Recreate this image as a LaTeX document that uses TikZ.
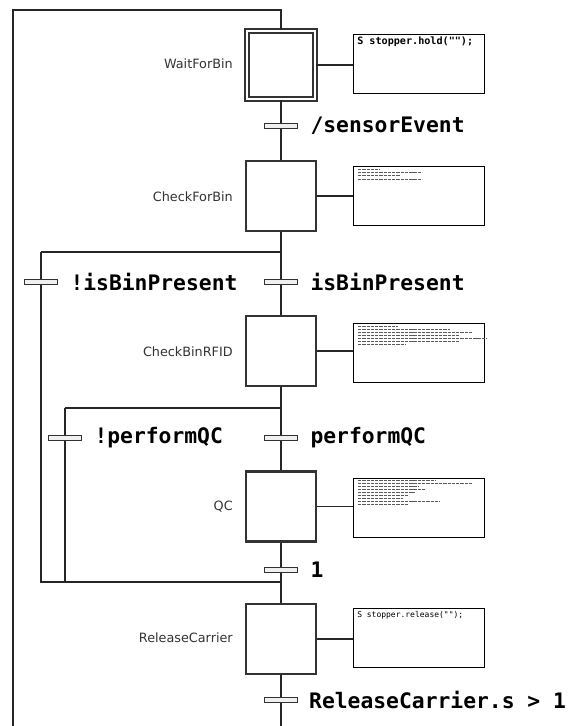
\documentclass[tikz,border=0pt]{standalone}
\usepackage{fontspec}
\usetikzlibrary{positioning}
\newfontfamily\steplabelfont{DejaVu Sans}
\newfontfamily\trfont{DejaVu Sans Mono}

% one unit = one pixel of the 578x726 sheet
\tikzset{
  stepbox/.style={draw=black!80, line width=1.9pt, fill=white, minimum size=70*0.75pt, inner sep=0pt},
  initstep/.style={draw=black!80, line width=1.5pt, double=white, double distance=2.2pt, minimum size=68*0.75pt, inner sep=0pt},
  actbox/.style={draw=black, line width=0.75pt, fill=white, minimum width=131*0.75pt, minimum height=59*0.75pt, inner sep=0pt},
  trbar/.style={draw=black!80, fill=gray!12, line width=1.1pt, minimum width=33*0.75pt, minimum height=5*0.75pt, inner sep=0pt},
  trlabel/.style={font=\trfont\bfseries\fontsize{16}{16}\selectfont, inner sep=0pt, anchor=west},
  steplabel/.style={font=\steplabelfont\fontsize{9.6}{10}\selectfont, text=black!80, inner sep=0pt, anchor=east},
  acttext/.style={font=\trfont\bfseries\fontsize{7.6}{8}\selectfont, inner sep=0pt, anchor=north west},
  scribble/.style={line width=0.6pt, black!65, dash pattern=on 2.5pt off 0.7pt},
  wire/.style={draw=black!85, line width=0.8pt}
}

\begin{document}
\begin{tikzpicture}[x=0.75pt, y=-0.75pt]
\useasboundingbox (0,0) rectangle (578,726);

% steps
\node[initstep] (wait) at (281,65) {};
\node[stepbox] (checkfor) at (281,196) {};
\node[stepbox] (checkrfid) at (281,351) {};
\node[stepbox] (qc) at (281,506.5) {};
\node[stepbox] (release) at (281,639) {};

\node[steplabel] (waitlbl) at (233,64) {WaitForBin};
\node[steplabel] (checkforlbl) at (233,197) {CheckForBin};
\node[steplabel] (checkrfidlbl) at (233,352) {CheckBinRFID};
\node[steplabel] (qclbl) at (233,507) {QC};
\node[steplabel] (releaselbl) at (233,638) {ReleaseCarrier};

% actions
\node[actbox] (waitact) at (419,64) {};
\node[actbox] (checkforact) at (419,195.5) {};
\node[actbox] (checkrfidact) at (419,352.5) {};
\node[actbox] (qcact) at (419,507.5) {};
\node[actbox] (releaseact) at (419,638) {};

\node[acttext] (waittxt) at (357,37) {S stopper.hold("");};
\node[acttext, font=\trfont\fontsize{6}{6}\selectfont] (releasetxt) at (357,611) {S stopper.release("");};

\draw[wire] (wait.east) -- (wait.east -| waitact.west);
\draw[wire] (checkfor.east) -- (checkfor.east -| checkforact.west);
\draw[wire] (checkrfid.east) -- (checkrfid.east -| checkrfidact.west);
\draw[wire] (qc.east) -- (qc.east -| qcact.west);
\draw[wire] (release.east) -- (release.east -| releaseact.west);

% unreadable action code
\foreach \yy/\xe in {169/380, 172/422, 175/400, 179/422}
  \draw[scribble] (358,\yy) -- (\xe,\yy);
\foreach \yy/\xe in {326/398, 329/450, 332/472, 335/460, 338/487, 341/460, 344/405}
  \draw[scribble] (358,\yy) -- (\xe,\yy);
\foreach \yy/\xe in {480/435, 483/473, 486/418, 489/425, 492/415, 495/408, 498/403, 501/440, 504/408}
  \draw[scribble] (358,\yy) -- (\xe,\yy);

% junction points
\coordinate (top) at (281,10);
\coordinate (topleft) at (13,10);
\coordinate (botleft) at (13,726);
\coordinate (bot) at (281,726);
\coordinate (split1) at (281,252);
\coordinate (split1l) at (41,252);
\coordinate (split2) at (281,408);
\coordinate (split2l) at (65,408);
\coordinate (join) at (281,582);
\coordinate (join1l) at (41,582);
\coordinate (join2l) at (65,582);

% transitions
\node[trbar] (tsensor) at (281,126) {};
\node[trbar] (tbin) at (281,282) {};
\node[trbar] (tnobin) at (41,282) {};
\node[trbar] (tperf) at (281,438) {};
\node[trbar] (tnoperf) at (65,438) {};
\node[trbar] (tone) at (281,570) {};
\node[trbar] (tlast) at (281,700) {};

\node[trlabel, right=9pt of tsensor] (tsensorlbl) {/sensorEvent};
\node[trlabel, right=9pt of tbin] (tbinlbl) {isBinPresent};
\node[trlabel, right=9pt of tnobin] (tnobinlbl) {!isBinPresent};
\node[trlabel, right=9pt of tperf] (tperflbl) {performQC};
\node[trlabel, right=9pt of tnoperf] (tnoperflbl) {!performQC};
\node[trlabel, right=9pt of tone] (tonelbl) {1};
\node[trlabel, right=8pt of tlast] (tlastlbl) {ReleaseCarrier.s > 1};

% links
\draw[wire] (botleft) -- (topleft) -- (top) -- (wait.north);
\draw[wire] (wait.south) -- (tsensor) -- (checkfor.north);
\draw[wire] (checkfor.south) -- (split1);
\draw[wire] (split1l) -- (split1) -- (tbin) -- (checkrfid.north);
\draw[wire] (split1l) -- (tnobin) -- (join1l) -- (join);
\draw[wire] (checkrfid.south) -- (split2);
\draw[wire] (split2l) -- (split2) -- (tperf) -- (qc.north);
\draw[wire] (split2l) -- (tnoperf) -- (join2l);
\draw[wire] (qc.south) -- (tone) -- (release.north);
\draw[wire] (release.south) -- (tlast) -- (bot);

% bars over the wires
\foreach \t in {tsensor, tbin, tnobin, tperf, tnoperf, tone, tlast}
  \node[trbar] at (\t) {};
\end{tikzpicture}
\end{document}
